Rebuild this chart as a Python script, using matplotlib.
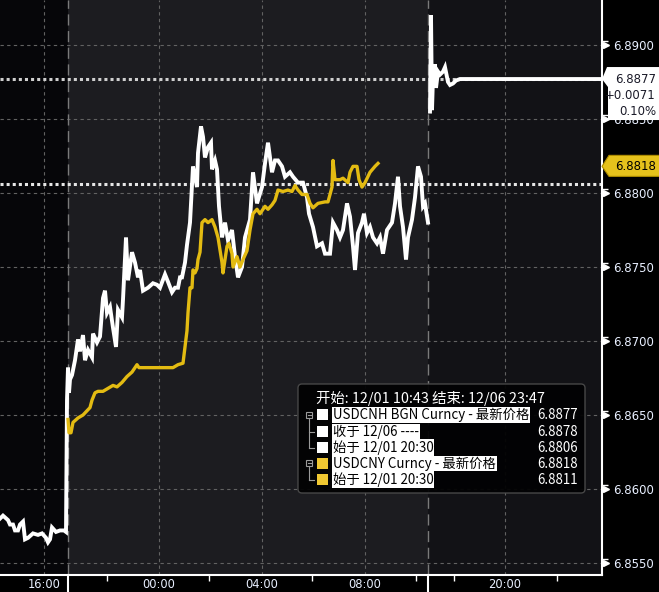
import numpy as np
import matplotlib.pyplot as plt
from matplotlib.patches import Rectangle, Polygon, FancyBboxPatch
from matplotlib.lines import Line2D
from matplotlib.transforms import Affine2D, ScaledTranslation, blended_transform_factory

plt.rcParams['font.family'] = ['Noto Sans CJK SC', 'DejaVu Sans']

## x is the compressed intraday axis (trading sessions only), one unit per chart column
cnh_x1 = [0, 3, 8, 10, 13, 15, 18, 20, 23, 25, 28, 33, 38, 42, 46, 48, 50, 52, 56, 60, 64, 66,
          67, 68, 69, 70, 72, 75, 78, 80, 83, 85, 88, 92, 93, 97, 100, 103, 105, 107, 110, 113,
          116, 118, 122, 123, 126, 128, 132, 135, 138, 140, 143, 148, 153, 157, 160, 165, 168,
          172, 175, 178, 180, 182, 185, 187, 190, 193, 197, 198, 201, 203, 205, 208, 211, 212,
          215, 217, 219, 222, 225, 228, 232, 235, 238, 242, 245, 250, 253, 257, 262, 265, 268,
          272, 275, 278, 282, 285, 290, 293, 298, 303, 307, 309, 313, 317, 322, 325, 330, 333,
          337, 340, 343, 347, 350, 353, 355, 358, 362, 364, 367, 370, 373, 377, 380, 383, 387,
          392, 395, 398, 400, 403, 406, 408, 412, 415, 418, 421, 423, 425, 428]
cnh_y1 = [6.8580, 6.8582, 6.8579, 6.8576, 6.8576, 6.8572, 6.8572, 6.8576, 6.8578, 6.8566,
          6.8567, 6.8570, 6.8569, 6.8570, 6.8567, 6.8564, 6.8566, 6.8574, 6.8571, 6.8572,
          6.8572, 6.8571,
          6.8660, 6.8682, 6.8665, 6.8674, 6.8677, 6.8687, 6.8701, 6.8693, 6.8704, 6.8687,
          6.8694, 6.8689, 6.8705, 6.8699, 6.8703, 6.8729, 6.8734, 6.8719, 6.8723, 6.8709,
          6.8696, 6.8721, 6.8716, 6.8728, 6.8770, 6.8741, 6.8760, 6.8753, 6.8743, 6.8748,
          6.8734, 6.8736, 6.8739, 6.8738, 6.8736, 6.8745, 6.8740, 6.8733, 6.8736, 6.8736,
          6.8743, 6.8743, 6.8753, 6.8765, 6.8780, 6.8818, 6.8804, 6.8827, 6.8845, 6.8838,
          6.8824, 6.8831, 6.8834, 6.8816, 6.8822, 6.8816, 6.8791, 6.8770, 6.8780, 6.8768,
          6.8775, 6.8757, 6.8743, 6.8750, 6.8770, 6.8782, 6.8814, 6.8793, 6.8804, 6.8820,
          6.8834, 6.8814, 6.8822, 6.8822, 6.8818, 6.8811, 6.8814, 6.8811, 6.8807, 6.8807,
          6.8797, 6.8786, 6.8777, 6.8764, 6.8766, 6.8759, 6.8759, 6.8780, 6.8775, 6.8770,
          6.8775, 6.8793, 6.8784, 6.8764, 6.8748, 6.8773, 6.8780, 6.8786, 6.8773, 6.8777,
          6.8770, 6.8766, 6.8770, 6.8759, 6.8775, 6.8780, 6.8793, 6.8811, 6.8791, 6.8777,
          6.8755, 6.8770, 6.8782, 6.8797, 6.8818, 6.8811, 6.8791, 6.8793, 6.8780]

cnh_x2 = [430, 431, 432, 433, 435, 436, 438, 440, 443, 445, 448, 450, 453, 456, 460, 602]
cnh_y2 = [6.8855, 6.8920, 6.8856, 6.8878, 6.8887, 6.8871, 6.8882, 6.8880, 6.8882, 6.8885,
          6.8875, 6.8873, 6.8874, 6.8876, 6.8877, 6.8877]

cny_x = [68, 69, 71, 73, 78, 83, 90, 92, 95, 98, 103, 108, 113, 117, 122, 127, 132, 137, 139,
         147, 160, 170, 173, 178, 183, 185, 187, 188, 190, 192, 193, 195, 197, 198, 200, 202,
         205, 208, 212, 215, 218, 222, 223, 227, 229, 232, 233, 237, 240, 243, 247, 250, 253,
         257, 260, 265, 268, 272, 275, 278, 283, 288, 292, 295, 298, 302, 307, 310, 313, 318,
         325, 328, 332, 333, 335, 340, 343, 348, 350, 353, 357, 359, 362, 365, 370, 375, 378]
cny_y = [6.8647, 6.8638, 6.8638, 6.8645, 6.8648, 6.8650, 6.8655, 6.8660, 6.8665, 6.8666,
         6.8666, 6.8668, 6.8670, 6.8669, 6.8672, 6.8676, 6.8679, 6.8684, 6.8682, 6.8682,
         6.8682, 6.8682, 6.8682, 6.8684, 6.8685, 6.8696, 6.8707, 6.8719, 6.8736, 6.8736,
         6.8748, 6.8746, 6.8749, 6.8755, 6.8760, 6.8780, 6.8782, 6.8780, 6.8782, 6.8777,
         6.8770, 6.8753, 6.8746, 6.8764, 6.8766, 6.8759, 6.8750, 6.8757, 6.8750, 6.8755,
         6.8761, 6.8775, 6.8786, 6.8789, 6.8786, 6.8791, 6.8789, 6.8792, 6.8795, 6.8802,
         6.8801, 6.8802, 6.8801, 6.8805, 6.8802, 6.8799, 6.8799, 6.8793, 6.8790, 6.8793,
         6.8794, 6.8794, 6.8804, 6.8822, 6.8809, 6.8809, 6.8810, 6.8807, 6.8814, 6.8818,
         6.8818, 6.8809, 6.8804, 6.8807, 6.8814, 6.8818, 6.8820]

cnh_last = 6.8877
cnh_change = '+0.0071'
cnh_pct = '0.10%'
cnh_open = 6.8806
cny_last = 6.8818

sessions = [0, 68, 428, 602]
session_colors = ['#060609', '#1c1c20', '#121216']
xtick_pos = [44, 159, 262, 365, 505]
xtick_labels = ['16:00', '00:00', '04:00', '08:00', '20:00']
xminor_pos = [107, 209, 312, 416, 454, 557]
yticks = [6.8550, 6.8600, 6.8650, 6.8700, 6.8750, 6.8800, 6.8850, 6.8900]
yminor = [6.85525 + 0.005 * i for i in range(8)]

legend_title = '开始: 12/01 10:43 结束: 12/06 23:47'
legend_rows = ['USDCNH BGN Curncy - 最新价格', '收于 12/06 ----', '始于 12/01 20:30',
               'USDCNY Curncy - 最新价格', '始于 12/01 20:30']
legend_values = ['6.8877', '6.8878', '6.8806', '6.8818', '6.8811']

WHITE = '#ffffff'
YELLOW = '#e3bb12'
legend_colors = [WHITE, WHITE, WHITE, '#f0c832', '#f0c832']
LABEL = '#e8efff'

fig = plt.figure(figsize=(6.59, 5.92), dpi=100, facecolor='black')
ax = fig.add_axes([0, 1 - 575 / 592, 602 / 659, 575 / 592])
ax.set_facecolor('black')
ax.set_xlim(0, 602)
ax.set_ylim(6.85419, 6.89304)

# session shading
for i in range(len(session_colors)):
    ax.axvspan(sessions[i], sessions[i + 1], color=session_colors[i], lw=0, zorder=0)

ax.set_axisbelow(True)
ax.grid(True, color='#626262', linestyle=(0, (3, 3)), linewidth=0.8)
for s in sessions[1:-1]:
    ax.axvline(s, color='#7a7a7a', linestyle=(0, (8, 4)), linewidth=1, zorder=1)

# reference lines
ax.axhline(cnh_open, color='#e6e6e6', linestyle=(0, (1, 1)), linewidth=2.2, zorder=2)
ax.axhline(cnh_last, color='#cfcfcf', linestyle=(0, (1, 1)), linewidth=2.2, zorder=2)

ax.plot(cnh_x1, cnh_y1, color=WHITE, lw=2.8, zorder=3, solid_joinstyle='miter')
ax.plot(cnh_x2, cnh_y2, color=WHITE, lw=2.8, zorder=3, solid_joinstyle='miter')
ax.plot(cny_x, cny_y, color=YELLOW, lw=2.4, zorder=4)

# axes
for k in ['left', 'top']:
    ax.spines[k].set_visible(False)
for k in ['right', 'bottom']:
    ax.spines[k].set_color('white')
    ax.spines[k].set_linewidth(1.5)

ax.yaxis.tick_right()
ax.set_yticks(yticks)
ax.set_yticklabels([f'{v:.4f}' for v in yticks])
ax.set_yticks(yminor, minor=True)
ax.tick_params(axis='y', which='major', length=0, pad=8, labelsize=8.5, labelcolor=LABEL)
ax.tick_params(axis='y', which='minor', length=4, width=1, color='white', direction='out')

ax.set_xticks(xtick_pos)
ax.set_xticklabels(xtick_labels, family='DejaVu Sans')
ax.set_xticks(xminor_pos, minor=True)
ax.tick_params(axis='x', which='major', length=0, pad=2.5, labelsize=8.3, labelcolor=LABEL)
ax.tick_params(axis='x', which='minor', length=4, width=1, color='white', direction='out')
for lab in ax.get_yticklabels():
    lab.set_family('DejaVu Sans')

# triangle tick markers on the price axis
ax.plot([605.5] * len(yticks), yticks, linestyle='none', marker='>', markersize=4.5,
        color='white', clip_on=False, zorder=5)

# day separators under the time axis
bt = blended_transform_factory(ax.transData, ax.transAxes)
for s in sessions[1:-1]:
    ax.plot([s, s], [0, -0.035], color='white', lw=1.5, transform=bt, clip_on=False)

# last price boxes at the price axis
def tip(y):
    return Affine2D().scale(1, -1) + ScaledTranslation(602, y, ax.transData)

tf = tip(cnh_last)
fig.add_artist(Polygon([(0, 0), (5, -12), (70, -12), (70, 41), (6, 41), (6, 8)],
                       closed=True, fc='white', ec='none', transform=tf, zorder=5))
for i, s in enumerate([f'{cnh_last:.4f}', cnh_change, cnh_pct]):
    fig.text(54, 16 * i, s, transform=tf, ha='right', va='center', fontsize=8.5,
             color='#1a1a28', family='DejaVu Sans', zorder=6)

tf = tip(cny_last)
fig.add_artist(Polygon([(0, 0), (7, -11), (70, -11), (70, 10), (7, 10)],
                       closed=True, fc='#e6c21c', ec='#b08e00', lw=0.8, transform=tf, zorder=5))
fig.text(54, 0, f'{cny_last:.4f}', transform=tf, ha='right', va='center', fontsize=8.5,
         color='black', family='DejaVu Sans', zorder=6)

# legend panel (figure pixel coordinates, origin top-left)
TP = Affine2D().scale(0.01, -0.01).translate(0, 5.92) + fig.dpi_scale_trans
fig.add_artist(FancyBboxPatch((298, 384), 287, 109, boxstyle='round,pad=0,rounding_size=4',
                              fc='#020203', ec='#4a4a4a', lw=1, alpha=0.95, transform=TP, zorder=5))
fig.text(316, 399, legend_title, transform=TP, ha='left', va='center', fontsize=10.4,
         color='white', zorder=6)

row_y = [415, 431.5, 447.5, 463.5, 479.5]
for i in range(len(legend_rows)):
    y = row_y[i]
    fig.add_artist(Rectangle((317, y - 6), 11, 11, fc=legend_colors[i], ec='none',
                             transform=TP, zorder=6))
    fig.text(333, y, legend_rows[i], transform=TP, ha='left', va='center', fontsize=9.6,
             color='black', zorder=6,
             bbox=dict(boxstyle='square,pad=0.05', fc='white', ec='none'))
    fig.text(578, y, legend_values[i], transform=TP, ha='right', va='center', fontsize=9.6,
             color='white', zorder=6)

# tree connectors
tree = '#9a9a9a'
for top, kids in [(0, [1, 2]), (3, [4])]:
    y0 = row_y[top]
    fig.add_artist(Rectangle((306, y0 - 3.5), 6, 6, fc='none', ec=tree, lw=0.8,
                             transform=TP, zorder=6))
    fig.add_artist(Line2D([307.5, 310.5], [y0 - 0.5, y0 - 0.5], color=tree, lw=0.8,
                          transform=TP, zorder=6))
    fig.add_artist(Line2D([309, 309], [y0 + 2.5, row_y[kids[-1]]], color=tree, lw=0.8,
                          transform=TP, zorder=6))
    for k in kids:
        fig.add_artist(Line2D([309, 314], [row_y[k], row_y[k]], color=tree, lw=0.8,
                              transform=TP, zorder=6))

fig.savefig('out.png', dpi=100, facecolor='black')
